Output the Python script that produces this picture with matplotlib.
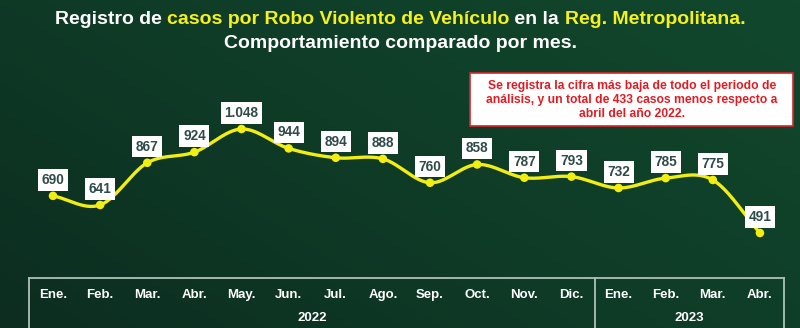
import numpy as np
import matplotlib
matplotlib.use("Agg")
import matplotlib.pyplot as plt
from matplotlib.colors import LinearSegmentedColormap
from matplotlib.patches import Rectangle

plt.rcParams['font.family'] = ['Liberation Sans', 'DejaVu Sans']

months = ["Ene.", "Feb.", "Mar.", "Abr.", "May.", "Jun.", "Jul.", "Ago.",
          "Sep.", "Oct.", "Nov.", "Dic.", "Ene.", "Feb.", "Mar.", "Abr."]
values = [690, 641, 867, 924, 1048, 944, 894, 888, 760, 858, 787, 793, 732, 785, 775, 491]
years = ["2022", "2023"]
year_counts = [12, 4]

title_parts = [("Registro de ", "white"), ("casos por Robo Violento de Vehículo", "#f5f01e"),
               (" en la ", "white"), ("Reg. Metropolitana.", "#f5f01e")]
title_line2 = "Comportamiento comparado por mes."
note = ("Se registra la cifra más baja de todo el periodo de\n"
        "análisis, y un total de 433 casos menos respecto a\n"
        "abril del año 2022.")

def fmt(v):
    return f"{v:,}".replace(",", ".")

def catmull_rom(xs, ys, n=30):
    xs = np.asarray(xs, float); ys = np.asarray(ys, float)
    px = np.concatenate([[2 * xs[0] - xs[1]], xs, [2 * xs[-1] - xs[-2]]])
    py = np.concatenate([[2 * ys[0] - ys[1]], ys, [2 * ys[-1] - ys[-2]]])
    ox, oy = [], []
    for i in range(1, len(px) - 2):
        t = np.linspace(0, 1, n, endpoint=False)
        for arr, out in ((px, ox), (py, oy)):
            p0, p1, p2, p3 = arr[i - 1], arr[i], arr[i + 1], arr[i + 2]
            out.extend(0.5 * ((2 * p1) + (-p0 + p2) * t + (2 * p0 - 5 * p1 + 4 * p2 - p3) * t ** 2
                              + (-p0 + 3 * p1 - 3 * p2 + p3) * t ** 3))
    ox.append(xs[-1]); oy.append(ys[-1])
    return np.array(ox), np.array(oy)

W, H = 800, 328
fig = plt.figure(figsize=(W / 100, H / 100), dpi=100)

# background gradient
bg = fig.add_axes([0, 0, 1, 1], zorder=0)
gx = np.linspace(0, 1, 200)
gy = np.linspace(0, 1, 100)
GX, GY = np.meshgrid(gx, gy)
G = 0.6 * GX + 0.4 * GY
cmap = LinearSegmentedColormap.from_list("g", ["#0c2d20", "#0f3c27", "#11482d"])
bg.imshow(G, cmap=cmap, aspect="auto", extent=[0, 1, 0, 1], origin="lower")
bg.set_axis_off()

ax = fig.add_axes([0, 0, 1, 1], zorder=1)
ax.patch.set_alpha(0)
ax.set_axis_off()
step = 47.13
x0 = 53
ax.set_xlim(-x0 / step, (W - x0) / step)
ax.set_ylim(-18, 1739)

x = np.arange(len(values))
sx, sy = catmull_rom(x, values)
ax.plot(sx, sy, color="#f2ee12", lw=2.4, solid_capstyle="round", zorder=3)
ax.scatter(x, values, s=38, color="#f2ee12", zorder=4, edgecolors="none")

for xi, v in zip(x, values):
    ax.annotate(fmt(v), (xi, v), xytext=(0, 11.5), textcoords="offset points",
                ha="center", va="center", fontsize=9.8, fontweight="bold", color="#2f4b48",
                bbox=dict(boxstyle="square,pad=0.27", fc="white", ec="none"), zorder=5)

# table at bottom
fy = lambda py: 1 - py / H
xt = ax.get_xaxis_transform()
line_kw = dict(color="#b0c0b8", lw=1.3, transform=xt, clip_on=False)
n = len(values)
ax.plot([-0.5, n - 0.5], [fy(278), fy(278)], **line_kw)
edges = [-0.5]
acc = -0.5
for c in year_counts:
    acc += c
    edges.append(acc)
for e in edges:
    ax.plot([e, e], [fy(278), 0], **line_kw)

for xi, m in zip(x, months):
    ax.text(xi, fy(295), m, transform=xt, ha="center", va="center",
            fontsize=9.5, fontweight="bold", color="white")
start = 0
for yr, c in zip(years, year_counts):
    ax.text(start + (c - 1) / 2, fy(318), yr, transform=xt, ha="center", va="center",
            fontsize=9.5, fontweight="bold", color="white")
    start += c

# multi-colored title
fig.canvas.draw()
renderer = fig.canvas.get_renderer()
tkw = dict(fontsize=14.0, fontweight="bold", va="center")
texts = []
for s, c in title_parts:
    t = fig.text(0, fy(20), s, color=c, **tkw)
    texts.append(t)
widths = [t.get_window_extent(renderer).width for t in texts]
total = sum(widths)
cur = (W - total) / 2
for t, w in zip(texts, widths):
    t.set_x(cur / W)
    cur += w
fig.text(0.5, fy(43), title_line2, color="white", ha="center", **tkw)

# note box
fig.patches.append(Rectangle((470 / W, fy(126)), (793 - 470) / W, (126 - 73) / H,
                             transform=fig.transFigure, fc="white", ec="#d9242b", lw=1.2, zorder=2))
fig.text(632 / W, fy(100), note, ha="center", va="center", fontsize=8.7,
         fontweight="bold", color="#e01b22", linespacing=1.25, zorder=3)

fig.savefig("out.png", dpi=100)
